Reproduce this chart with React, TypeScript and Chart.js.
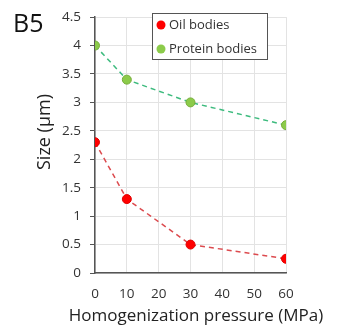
import React, { useEffect, useRef } from "react";
import { Chart, registerables } from "chart.js";

Chart.register(...registerables);

const pressures = [0, 10, 30, 60];
const oilBodies = [2.3, 1.3, 0.5, 0.25];
const proteinBodies = [4.0, 3.4, 3.0, 2.6];
const seriesNames = ["Oil bodies", "Protein bodies"];
const panelLabel = "B5";
const xTitle = "Homogenization pressure (MPa)";
const yTitle = "Size (µm)";

const FONT = "'Open Sans', sans-serif";

const overlayPlugin = {
  id: "overlay",
  afterDraw(chart: any) {
    const ctx = chart.ctx;
    ctx.save();
    // panel label
    ctx.fillStyle = "#111";
    ctx.font = `25px ${FONT}`;
    ctx.textAlign = "left";
    ctx.textBaseline = "middle";
    ctx.fillText(panelLabel, 13, 25);
    // axis titles
    ctx.fillStyle = "#222";
    ctx.font = `17px ${FONT}`;
    ctx.textAlign = "center";
    ctx.fillText(xTitle, 196, 316);
    ctx.save();
    ctx.translate(45, 132);
    ctx.rotate(-Math.PI / 2);
    ctx.font = `18px ${FONT}`;
    ctx.fillText(yTitle, 0, 0);
    ctx.restore();
    // legend
    const x0 = 152, y0 = 13, w = 115, h = 46;
    ctx.fillStyle = "#fff";
    ctx.fillRect(x0, y0, w, h);
    ctx.strokeStyle = "#555";
    ctx.lineWidth = 1;
    ctx.strokeRect(x0 + 0.5, y0 + 0.5, w, h);
    chart.data.datasets.forEach((ds: any, i: number) => {
      const cy = y0 + 12 + i * 24;
      ctx.beginPath();
      ctx.arc(x0 + 9, cy, 4.5, 0, Math.PI * 2);
      ctx.fillStyle = ds.pointBackgroundColor;
      ctx.fill();
      ctx.fillStyle = "#333";
      ctx.font = `13px ${FONT}`;
      ctx.textAlign = "left";
      ctx.textBaseline = "middle";
      ctx.fillText(ds.label, x0 + 17, cy);
    });
    ctx.restore();
  },
};

export default function App() {
  const ref = useRef<HTMLCanvasElement>(null);
  useEffect(() => {
    document.body.style.margin = "0";
    const chart = new Chart(ref.current!, {
      type: "line",
      data: {
        datasets: [
          {
            label: seriesNames[0],
            data: pressures.map((x, i) => ({ x, y: oilBodies[i] })),
            borderColor: "#dc4a4e",
            borderDash: [5, 4],
            borderWidth: 1.5,
            pointBackgroundColor: "#ff0000",
            pointBorderColor: "#e00000",
            pointRadius: 4.5,
            pointBorderWidth: 1,
            tension: 0,
          },
          {
            label: seriesNames[1],
            data: pressures.map((x, i) => ({ x, y: proteinBodies[i] })),
            borderColor: "#3dbb7e",
            borderDash: [5, 4],
            borderWidth: 1.5,
            pointBackgroundColor: "#8ccb4a",
            pointBorderColor: "#76ad3a",
            pointRadius: 4.5,
            pointBorderWidth: 1,
            tension: 0,
          },
        ],
      },
      options: {
        responsive: false,
        animation: false,
        layout: { padding: { top: 10, right: 51, left: 0, bottom: 0 } },
        plugins: { legend: { display: false }, tooltip: { enabled: false } },
        scales: {
          x: {
            type: "linear",
            min: 0,
            max: 60,
            ticks: { stepSize: 10, color: "#333", font: { size: 13.5, family: FONT }, padding: 13 },
            grid: { color: "#e3e3e3", drawTicks: false },
            border: { color: "#555", width: 1.5 },
            afterFit: (s: any) => { s.height = 58; },
          },
          y: {
            min: 0,
            max: 4.5,
            ticks: {
              stepSize: 0.5,
              color: "#333",
              font: { size: 13.5, family: FONT },
              padding: 9,
              callback: (v: any) => String(Number(v)),
            },
            grid: { color: "#e3e3e3", tickColor: "#555", tickLength: 5 },
            border: { color: "#555", width: 1.5 },
            afterFit: (s: any) => { s.width = 95; },
          },
        },
      },
      plugins: [overlayPlugin],
    } as any);
    return () => chart.destroy();
  }, []);
  return (
    <div style={{ width: 337, height: 331, background: "#fff" }}>
      <canvas ref={ref} width={337} height={331} />
    </div>
  );
}
